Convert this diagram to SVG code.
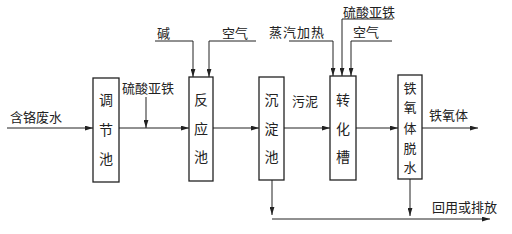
<svg xmlns="http://www.w3.org/2000/svg" width="512" height="234" viewBox="0 0 512 234">
<style>
.box{fill:#fff;stroke:#222;stroke-width:1.3}
.ln{fill:none;stroke:#222;stroke-width:1}
.t{font-family:"Noto Sans CJK SC","Noto Sans",sans-serif;font-size:13px;fill:#222}
.bt{font-family:"Noto Sans CJK SC","Noto Sans",sans-serif;font-size:14px;fill:#222;text-anchor:middle}
.bs{font-size:13px}
</style>
<defs>
<marker id="ah" viewBox="0 0 10 6" refX="10" refY="3" markerWidth="8" markerHeight="5" markerUnits="userSpaceOnUse" orient="auto">
<path d="M0,0 L10,3 L0,6 Z" fill="#222"/>
</marker>
</defs>
<rect width="512" height="234" fill="#fff"/>
<g id="connectors">
<line class="ln" x1="7" y1="128" x2="93" y2="128" marker-end="url(#ah)"/>
<line class="ln" x1="119" y1="128" x2="189" y2="128" marker-end="url(#ah)"/>
<line class="ln" x1="146" y1="97" x2="146" y2="128" marker-end="url(#ah)"/>
<line class="ln" x1="213" y1="128" x2="259" y2="128" marker-end="url(#ah)"/>
<polyline class="ln" points="155,41 193,41 193,77" marker-end="url(#ah)"/>
<polyline class="ln" points="256,41 209,41 209,77" marker-end="url(#ah)"/>
<line class="ln" x1="284" y1="128" x2="330" y2="128" marker-end="url(#ah)"/>
<polyline class="ln" points="289,41 333,41 333,76" marker-end="url(#ah)"/>
<polyline class="ln" points="393,19 342,19 342,76" marker-end="url(#ah)"/>
<polyline class="ln" points="392,41 351,41 351,76" marker-end="url(#ah)"/>
<line class="ln" x1="356" y1="128" x2="398" y2="128" marker-end="url(#ah)"/>
<line class="ln" x1="422" y1="128" x2="478" y2="128" marker-end="url(#ah)"/>
<line class="ln" x1="272" y1="180" x2="272" y2="215" marker-end="url(#ah)"/>
<line class="ln" x1="272" y1="219" x2="490" y2="219" marker-end="url(#ah)"/>
<line class="ln" x1="410" y1="179" x2="410" y2="216" marker-end="url(#ah)"/>
</g>
<g id="labels">
<text class="t" x="10" y="122">含铬废水</text>
<text class="t" x="122" y="93">硫酸亚铁</text>
<text class="t" x="157" y="38">碱</text>
<text class="t" x="222" y="38">空气</text>
<text class="t" x="292" y="106">污泥</text>
<text class="t" x="269" y="37" letter-spacing="1">蒸汽加热</text>
<text class="t" x="343" y="17">硫酸亚铁</text>
<text class="t" x="353" y="37">空气</text>
<text class="t" x="429" y="120">铁氧体</text>
<text class="t" x="432" y="212">回用或排放</text>
</g>
<g id="node-tiaojiechi">
<rect class="box" x="93" y="78" width="26" height="104"/>
<text class="bt" x="106" y="105">调</text>
<text class="bt" x="106" y="135">节</text>
<text class="bt" x="106" y="164">池</text>
</g>
<g id="node-fanyingchi">
<rect class="box" x="189" y="77" width="24" height="104"/>
<text class="bt" x="201" y="105">反</text>
<text class="bt" x="201" y="134">应</text>
<text class="bt" x="201" y="162">池</text>
</g>
<g id="node-chendianchi">
<rect class="box" x="259" y="77" width="25" height="103"/>
<text class="bt" x="271.5" y="105">沉</text>
<text class="bt" x="271.5" y="134">淀</text>
<text class="bt" x="271.5" y="162">池</text>
</g>
<g id="node-zhuanhuacao">
<rect class="box" x="330" y="76" width="26" height="104"/>
<text class="bt" x="343" y="105">转</text>
<text class="bt" x="343" y="134">化</text>
<text class="bt" x="343" y="162">槽</text>
</g>
<g id="node-tieyangti">
<rect class="box" x="398" y="75" width="24" height="104"/>
<text class="bt bs" x="410" y="93">铁</text>
<text class="bt bs" x="410" y="112">氧</text>
<text class="bt bs" x="410" y="133">体</text>
<text class="bt bs" x="410" y="153">脱</text>
<text class="bt bs" x="410" y="172">水</text>
</g>
</svg>
